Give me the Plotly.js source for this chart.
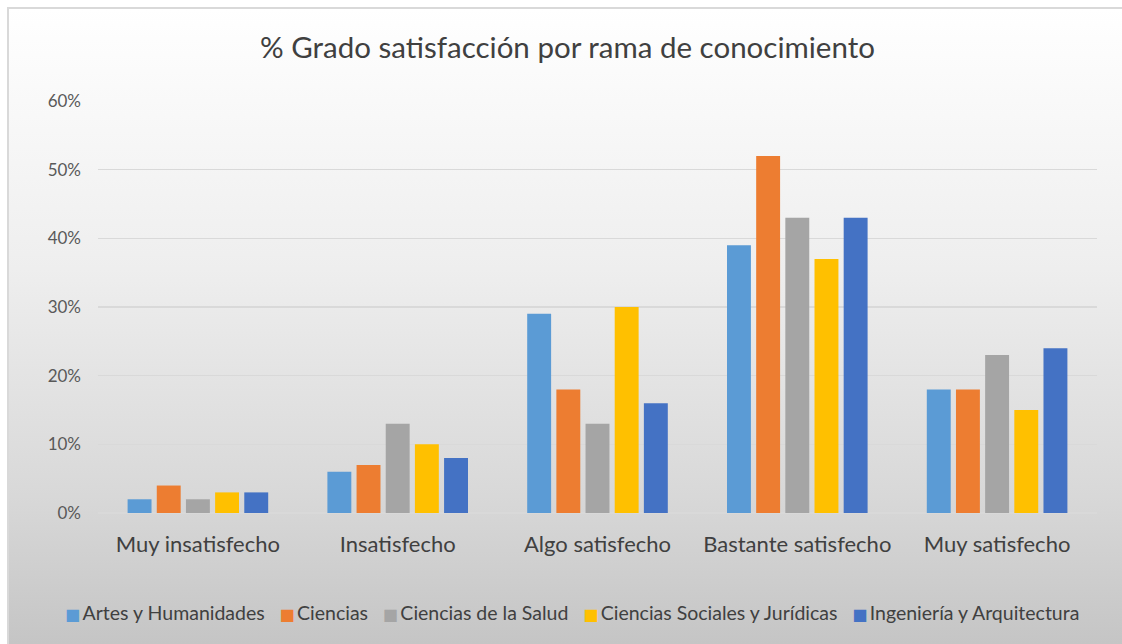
<!DOCTYPE html>
<html>
<head>
<meta charset="utf-8">
<script src="https://cdn.plot.ly/plotly-3.0.1.min.js"></script>
<style>
  html, body { margin: 0; padding: 0; width: 1122px; height: 644px; overflow: hidden; background: #ffffff; }
  #bg { position: absolute; left: 7px; top: 7px; width: 1130px; height: 650px;
        border-left: 2px solid #d9d9d9; border-top: 2px solid #d9d9d9;
        background: linear-gradient(to bottom, #ffffff 0%, #eeeeee 40%, #d8d8d8 75%, #c3c3c3 100%); }
  #chart { position: absolute; left: 0; top: 0; width: 1122px; height: 644px; }
</style>
</head>
<body>
<div id="bg"></div>
<div id="chart"></div>
<script>
const categories = ["Muy insatisfecho", "Insatisfecho", "Algo satisfecho", "Bastante satisfecho", "Muy satisfecho"];
const seriesNames = ["Artes y Humanidades", "Ciencias", "Ciencias de la Salud", "Ciencias Sociales y Jurídicas", "Ingeniería y Arquitectura"];
const artes = [0.02, 0.06, 0.29, 0.39, 0.18];
const ciencias = [0.04, 0.07, 0.18, 0.52, 0.18];
const salud = [0.02, 0.13, 0.13, 0.43, 0.23];
const sociales = [0.03, 0.10, 0.30, 0.37, 0.15];
const ingenieria = [0.03, 0.08, 0.16, 0.43, 0.24];
const tickVals = [0, 0.1, 0.2, 0.3, 0.4, 0.5, 0.6];
const tickText = ["0%", "10%", "20%", "30%", "40%", "50%", "60%"];
const colors = ["#5B9BD5", "#ED7D31", "#A5A5A5", "#FFC000", "#4472C4"];

const allSeries = [artes, ciencias, salud, sociales, ingenieria];
const traces = allSeries.map((vals, i) => ({
  type: "bar",
  name: seriesNames[i],
  x: categories,
  y: vals,
  marker: { color: colors[i], line: { width: 0 } },
  hoverinfo: "skip"
}));

const font = "Lato, 'Open Sans', sans-serif";
const NB = "\u00A0";

// Legend built as one centered text line with coloured squares
const legendText = seriesNames.map((n, i) =>
  `<span style="color:${colors[i]};font-family:'DejaVu Sans';font-size:16px">■</span>\u2009${n}`
).join("\u2002" + NB);

const layout = {
  width: 1122,
  height: 644,
  margin: { l: 98, r: 25, t: 101, b: 131 },
  paper_bgcolor: "rgba(0,0,0,0)",
  plot_bgcolor: "rgba(0,0,0,0)",
  barmode: "group",
  bargap: 0.27,
  bargroupgap: 0.18,
  title: {
    text: "% Grado satisfacción por rama de conocimiento",
    font: { family: font, size: 29.5, color: "#404040" },
    x: 567.5 / 1122, xanchor: "center",
    y: 1 - 48 / 644, yanchor: "middle", yref: "container"
  },
  xaxis: {
    type: "category",
    showgrid: false,
    showline: false,
    zeroline: false,
    ticks: "",
    ticklabelstandoff: 16,
    tickfont: { family: font, size: 22, color: "#404040" }
  },
  yaxis: {
    range: [0, 0.6],
    tickvals: tickVals,
    ticktext: tickText,
    showgrid: true,
    gridcolor: "#d9d9d9",
    gridwidth: 1.5,
    zeroline: true,
    zerolinecolor: "#d9d9d9",
    zerolinewidth: 1.5,
    showline: false,
    ticks: "",
    ticklabelstandoff: 16,
    tickfont: { family: font, size: 17, color: "#595959" }
  },
  showlegend: false,
  annotations: [{
    text: legendText,
    xref: "paper", yref: "paper",
    x: (572 - 98) / 999, xanchor: "center",
    y: -99 / 412, yanchor: "middle",
    showarrow: false,
    font: { family: font, size: 19.5, color: "#404040" }
  }]
};

Plotly.newPlot("chart", traces, layout, { displayModeBar: false, staticPlot: true });
</script>
</body>
</html>
